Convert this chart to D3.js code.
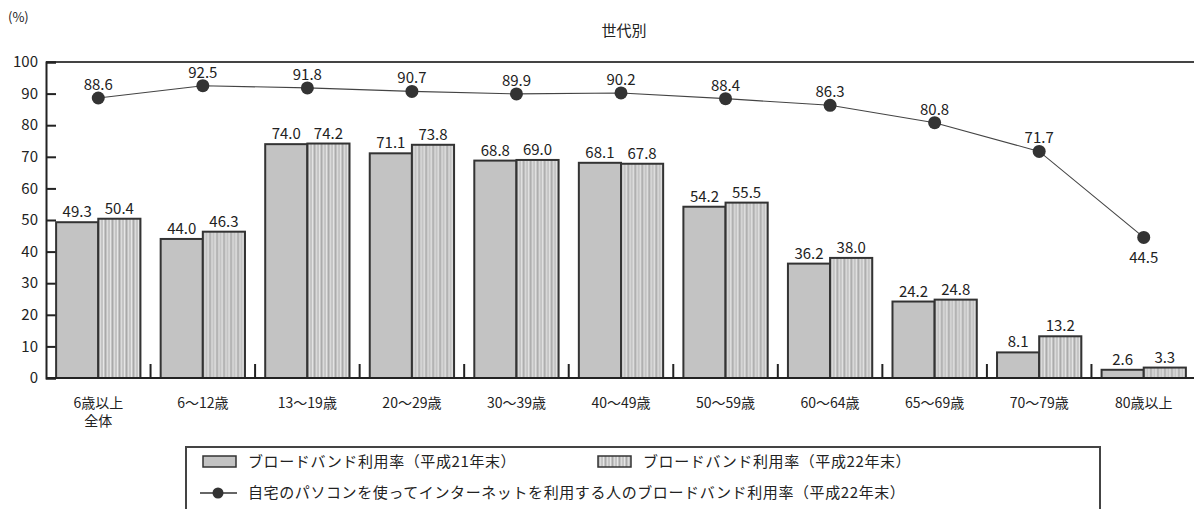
<!DOCTYPE html>
<html>
<head>
<meta charset="utf-8">
<script src="https://cdn.jsdelivr.net/npm/d3@7"></script>
<style>
  html, body { margin: 0; padding: 0; background: #fff; }
  svg { display: block; font-family: "Noto Sans CJK JP", "Noto Sans", sans-serif; }
</style>
</head>
<body>
<svg id="chart" width="1194" height="509"></svg>
<script>
// Age groups (x categories)
const categories = ["6歳以上\n全体", "6～12歳", "13～19歳", "20～29歳", "30～39歳", "40～49歳",
                    "50～59歳", "60～64歳", "65～69歳", "70～79歳", "80歳以上"];
// Broadband usage rate, end of H21
const rateH21 = [49.3, 44.0, 74.0, 71.1, 68.8, 68.1, 54.2, 36.2, 24.2, 8.1, 2.6];
// Broadband usage rate, end of H22
const rateH22 = [50.4, 46.3, 74.2, 73.8, 69.0, 67.8, 55.5, 38.0, 24.8, 13.2, 3.3];
// Broadband rate among people using the internet on a home PC, end of H22
const rateHomePC = [88.6, 92.5, 91.8, 90.7, 89.9, 90.2, 88.4, 86.3, 80.8, 71.7, 44.5];
const yTicks = [0, 10, 20, 30, 40, 50, 60, 70, 80, 90, 100];
const legendLabels = [
  "ブロードバンド利用率（平成21年末）",
  "ブロードバンド利用率（平成22年末）",
  "自宅のパソコンを使ってインターネットを利用する人のブロードバンド利用率（平成22年末）"
];

(function () {
const svg = d3.select("#chart");
const plotLeft = 46, plotRight = 1196, plotTop = 62, plotBottom = 378;
const ink = "#222";

const x = d3.scaleBand().domain(d3.range(categories.length)).range([plotLeft, plotRight]).paddingInner(0).paddingOuter(0);
const xi = d3.scaleBand().domain([0, 1]).range([0, x.bandwidth()]).paddingInner(0).paddingOuter(0.24);
const y = d3.scaleLinear().domain([0, 100]).range([plotBottom, plotTop]);

// vertical stripe fill for the H22 series
const defs = svg.append("defs");
const pat = defs.append("pattern").attr("id", "stripes").attr("patternUnits", "userSpaceOnUse")
  .attr("width", 7).attr("height", 10);
pat.append("rect").attr("width", 7).attr("height", 10).attr("fill", "#c4c4c4");
pat.append("rect").attr("x", 1).attr("width", 1).attr("height", 10).attr("fill", "#e6e6e6");
pat.append("rect").attr("x", 3).attr("width", 1).attr("height", 10).attr("fill", "#a9a9a9");
pat.append("rect").attr("x", 5).attr("width", 1).attr("height", 10).attr("fill", "#dcdcdc");

// unit and title
svg.append("text").attr("x", 8).attr("y", 22).attr("font-size", 13).attr("fill", ink).text("(%)");
svg.append("text").attr("x", 624).attr("y", 36).attr("text-anchor", "middle").attr("font-size", 15)
  .attr("fill", ink).text("世代別");

// frame: top line and left axis
svg.append("line").attr("x1", plotLeft).attr("x2", 1194).attr("y1", y(100)).attr("y2", y(100))
  .attr("stroke", "#444").attr("stroke-width", 2);

const yAxis = d3.axisRight(y).tickValues(yTicks).tickSize(10).tickFormat("");
const gy = svg.append("g").attr("transform", `translate(${plotLeft},0)`).call(yAxis);
gy.select(".domain").attr("stroke", ink).attr("stroke-width", 2);
gy.selectAll(".tick line").attr("stroke", ink).attr("stroke-width", 2);

svg.append("g").selectAll("text").data(yTicks).join("text")
  .attr("x", plotLeft - 8).attr("y", d => y(d)).attr("dy", "0.35em").attr("text-anchor", "end")
  .attr("font-size", 15).attr("fill", ink).text(d => d);

// bars
const groups = svg.append("g").selectAll("g").data(categories).join("g")
  .attr("transform", (d, i) => `translate(${x(i)},0)`);

groups.append("rect")
  .attr("x", xi(0)).attr("width", xi.bandwidth())
  .attr("y", (d, i) => y(rateH21[i])).attr("height", (d, i) => y(0) - y(rateH21[i]))
  .attr("fill", "#c3c3c3").attr("stroke", "#333").attr("stroke-width", 2);
groups.append("rect")
  .attr("x", xi(1)).attr("width", xi.bandwidth())
  .attr("y", (d, i) => y(rateH22[i])).attr("height", (d, i) => y(0) - y(rateH22[i]))
  .attr("fill", "url(#stripes)").attr("stroke", "#333").attr("stroke-width", 2);

groups.append("text").attr("x", xi(0) + xi.bandwidth() / 2).attr("y", (d, i) => y(rateH21[i]) - 5)
  .attr("text-anchor", "middle").attr("font-size", 15).attr("fill", ink).text((d, i) => rateH21[i].toFixed(1));
groups.append("text").attr("x", xi(1) + xi.bandwidth() / 2).attr("y", (d, i) => y(rateH22[i]) - 5)
  .attr("text-anchor", "middle").attr("font-size", 15).attr("fill", ink).text((d, i) => rateH22[i].toFixed(1));

// x axis line with category separators
svg.append("line").attr("x1", plotLeft).attr("x2", 1194).attr("y1", y(0)).attr("y2", y(0))
  .attr("stroke", ink).attr("stroke-width", 2);
svg.append("g").selectAll("line").data(d3.range(1, categories.length)).join("line")
  .attr("x1", i => x(i)).attr("x2", i => x(i)).attr("y1", y(0)).attr("y2", y(0) - 14)
  .attr("stroke", ink).attr("stroke-width", 2);

// category labels
const lab = svg.append("g").selectAll("text").data(categories).join("text")
  .attr("x", (d, i) => x(i) + x.bandwidth() / 2).attr("y", 408)
  .attr("text-anchor", "middle").attr("font-size", 14).attr("fill", ink);
lab.selectAll("tspan").data(d => d.split("\n")).join("tspan")
  .attr("x", function () { return d3.select(this.parentNode).attr("x"); })
  .attr("dy", (d, k) => k === 0 ? 0 : "1.3em").text(d => d);

// home PC line
const cx = i => x(i) + x.bandwidth() / 2;
svg.append("path").datum(rateHomePC)
  .attr("d", d3.line().x((d, i) => cx(i)).y(d => y(d)))
  .attr("fill", "none").attr("stroke", "#444").attr("stroke-width", 1.1);
svg.append("g").selectAll("circle").data(rateHomePC).join("circle")
  .attr("cx", (d, i) => cx(i)).attr("cy", d => y(d)).attr("r", 6.5).attr("fill", "#333");
svg.append("g").selectAll("text").data(rateHomePC).join("text")
  .attr("x", (d, i) => cx(i)).attr("y", (d, i) => i === categories.length - 1 ? y(d) + 26 : y(d) - 8)
  .attr("text-anchor", "middle").attr("font-size", 15).attr("fill", ink).text(d => d.toFixed(1));

// legend
const lg = svg.append("g");
lg.append("rect").attr("x", 186).attr("y", 447).attr("width", 914).attr("height", 70)
  .attr("fill", "#fff").attr("stroke", "#444").attr("stroke-width", 2);
lg.append("rect").attr("x", 203).attr("y", 456).attr("width", 33).attr("height", 11)
  .attr("fill", "#c3c3c3").attr("stroke", "#333").attr("stroke-width", 1.5);
lg.append("text").attr("x", 248).attr("y", 467).attr("font-size", 15).attr("letter-spacing", 0.6)
  .attr("fill", ink).text(legendLabels[0]);
lg.append("rect").attr("x", 598).attr("y", 456).attr("width", 33).attr("height", 11)
  .attr("fill", "url(#stripes)").attr("stroke", "#333").attr("stroke-width", 1.5);
lg.append("text").attr("x", 643).attr("y", 467).attr("font-size", 15).attr("letter-spacing", 0.6)
  .attr("fill", ink).text(legendLabels[1]);
lg.append("line").attr("x1", 200).attr("x2", 237).attr("y1", 493).attr("y2", 493)
  .attr("stroke", "#333").attr("stroke-width", 1.5);
lg.append("circle").attr("cx", 218).attr("cy", 493).attr("r", 5.5).attr("fill", "#333");
lg.append("text").attr("x", 248).attr("y", 498).attr("font-size", 15).attr("letter-spacing", 0.6)
  .attr("fill", ink).text(legendLabels[2]);
})();
</script>
</body>
</html>
